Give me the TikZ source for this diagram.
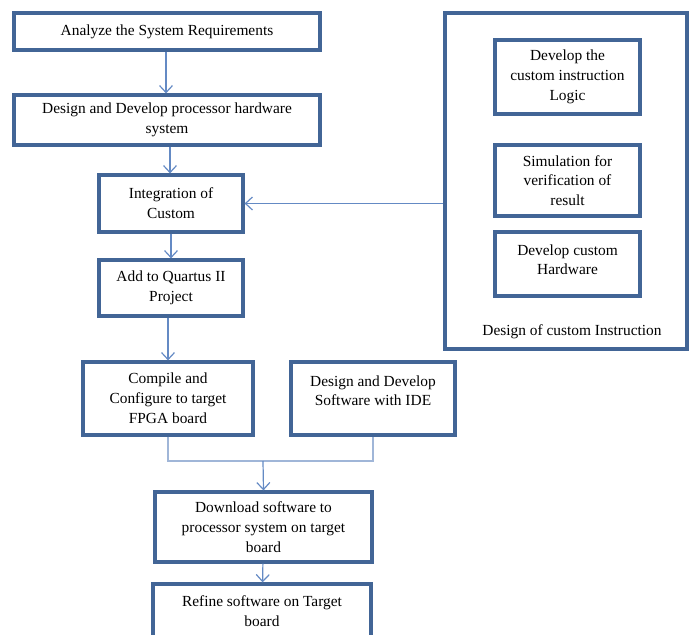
\documentclass[tikz,border=0pt]{standalone}
\usepackage{fontspec}
\setmainfont{Liberation Serif}
\usetikzlibrary{arrows.meta}
\definecolor{boxblue}{RGB}{66,101,150}
\definecolor{linkblue}{RGB}{100,138,196}
\definecolor{mergeblue}{RGB}{160,182,216}
\begin{document}
\begin{tikzpicture}[x=1pt,y=-1pt,
  stepbox/.style={draw=boxblue,line width=3.2pt,fill=white,inner sep=0pt,align=center,
    font=\fontsize{15.4}{19.8}\selectfont},
  link/.style={draw=linkblue,line width=1.2pt,-{Straight Barb[length=7pt,width=13pt,line width=1.2pt]}},
  merge/.style={draw=mergeblue,line width=1.2pt}]
\useasboundingbox (0,0) rectangle (689,635);
\clip (0,0) rectangle (689,635);

% main flow
\node[stepbox,minimum width=306,minimum height=37] (req) at (167,31.5) {Analyze the System Requirements};
\node[stepbox,minimum width=306,minimum height=50] (hw) at (167,120) {Design and Develop processor hardware\\system};
\node[stepbox,minimum width=144,minimum height=57] (integ) at (171,203.5) {Integration of\\Custom};
\node[stepbox,minimum width=144,minimum height=56] (quartus) at (171,288) {Add to Quartus II\\Project};
\node[stepbox,minimum width=170,minimum height=73] (compile) at (168,398.5) {Compile and\\Configure to target\\FPGA board};
\node[stepbox,minimum width=164,minimum height=73] (ide) at (373,398.5) {Design and Develop\\Software with IDE\\[-10pt]\strut};
\node[stepbox,minimum width=217,minimum height=70] (download) at (263.5,527) {Download software to\\processor system on target\\board};
\node[stepbox,minimum width=218,minimum height=72] (refine) at (262,620) {Refine software on Target\\board\\[-8pt]\strut};

% custom instruction block
\node[stepbox,minimum width=242,minimum height=336] (custom) at (566,181) {};
\node[stepbox,minimum width=145,minimum height=74] (logic) at (567.5,77) {Develop the\\custom instruction\\Logic};
\node[stepbox,minimum width=145,minimum height=71] (sim) at (567.5,180.5) {Simulation for\\verification of\\result};
\node[stepbox,minimum width=145,minimum height=64] (chw) at (567.5,264) {Develop custom\\Hardware\\[-17pt]\strut};
\node[font=\fontsize{15.4}{19.8}\selectfont,anchor=base] (customlbl) at (572,335) {Design of custom Instruction};

% connectors
\draw[link] (req.south -| 166,0) -- (hw.north -| 166,0);
\draw[link] (hw.south -| 170,0) -- (integ.north -| 170,0);
\draw[link] (integ) -- (quartus);
\draw[link] (quartus.south -| 168,0) -- (compile.north -| 168,0);
\draw[link] (custom.west |- integ) -- (integ.east);
\coordinate (mid) at (263,461);
\draw[merge] (compile.south) |- (mid) -| (ide.south);
\draw[link] (mid) -- (download.north);
\draw[link] (download) -- (refine);
\end{tikzpicture}
\end{document}
